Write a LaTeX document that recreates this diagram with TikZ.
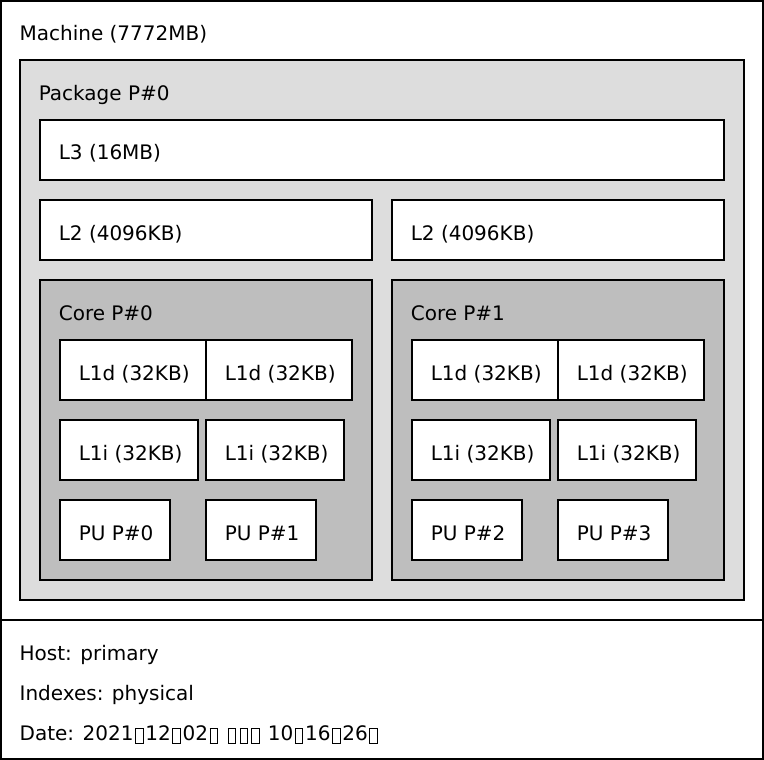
\documentclass[tikz,border=0pt]{standalone}
\usepackage{fontspec}
\setmainfont{DejaVu Sans}
\definecolor{pkgfill}{RGB}{221,221,221}
\definecolor{corefill}{RGB}{190,190,190}
\newcommand\tbox[7]{%
  \node[#6, minimum width=#4pt, minimum height=#5pt, anchor=north west] (#1) at (#2,#3) {};
  \node[lbl, anchor=base west] (#1-t) at ([xshift=18.6pt,yshift=-40pt]#1.north west) {#7};
}
\newcommand\tofu{\kern1.6pt\raisebox{-2.6pt}{\setlength\fboxsep{0pt}\setlength\fboxrule{0.9pt}\fbox{\rule{0pt}{13.4pt}\kern6.6pt}}\kern1.8pt}
\begin{document}
\begin{tikzpicture}[x=1pt,y=-1pt,
  box/.style={draw=black, line width=1.6pt, inner sep=0pt, outer sep=0pt, rectangle},
  whitebox/.style={box, fill=white},
  pkgbox/.style={box, fill=pkgfill},
  corebox/.style={box, fill=corefill},
  lbl/.style={inner sep=0pt, font=\fontsize{20}{24}\selectfont}]
\useasboundingbox (0,0) rectangle (764,760);
\fill[white] (0,0) rectangle (764,760);
\tbox{machine}{0.8}{0.8}{762.4}{619.2}{whitebox}{Machine (7772MB)}
\tbox{pkg}{20}{60}{724}{540}{pkgbox}{Package P\#0}
\tbox{l3}{40}{120}{684}{60}{whitebox}{L3 (16MB)}
\tbox{l2a}{40}{200}{332}{60}{whitebox}{L2 (4096KB)}
\tbox{l2b}{392}{200}{332}{60}{whitebox}{L2 (4096KB)}
\tbox{core0}{40}{280}{332}{300}{corebox}{Core P\#0}
\tbox{core1}{392}{280}{332}{300}{corebox}{Core P\#1}
\tbox{l1da}{60}{340}{146}{60}{whitebox}{L1d (32KB)}
\tbox{l1db}{206}{340}{146}{60}{whitebox}{L1d (32KB)}
\tbox{l1dc}{412}{340}{146}{60}{whitebox}{L1d (32KB)}
\tbox{l1dd}{558}{340}{146}{60}{whitebox}{L1d (32KB)}
\tbox{l1ia}{60}{420}{138}{60}{whitebox}{L1i (32KB)}
\tbox{l1ib}{206}{420}{138}{60}{whitebox}{L1i (32KB)}
\tbox{l1ic}{412}{420}{138}{60}{whitebox}{L1i (32KB)}
\tbox{l1id}{558}{420}{138}{60}{whitebox}{L1i (32KB)}
\tbox{pu0}{60}{500}{110}{60}{whitebox}{PU P\#0}
\tbox{pu1}{206}{500}{110}{60}{whitebox}{PU P\#1}
\tbox{pu2}{412}{500}{110}{60}{whitebox}{PU P\#2}
\tbox{pu3}{558}{500}{110}{60}{whitebox}{PU P\#3}
\node[whitebox, minimum width=762.4pt, minimum height=139.2pt, anchor=north west] (legend) at (0.8,620) {};
\node[lbl, anchor=base west] (host) at ([xshift=18.6pt,yshift=-40pt]legend.north west) {Host: primary};
\node[lbl, anchor=base west] (idx) at ([yshift=-40pt]host.base west) {Indexes: physical};
\node[lbl, anchor=base west] (date) at ([yshift=-40pt]idx.base west) {Date: 2021\tofu12\tofu02\tofu{} \tofu\tofu\tofu{} 10\tofu16\tofu26\tofu};
\end{tikzpicture}
\end{document}
